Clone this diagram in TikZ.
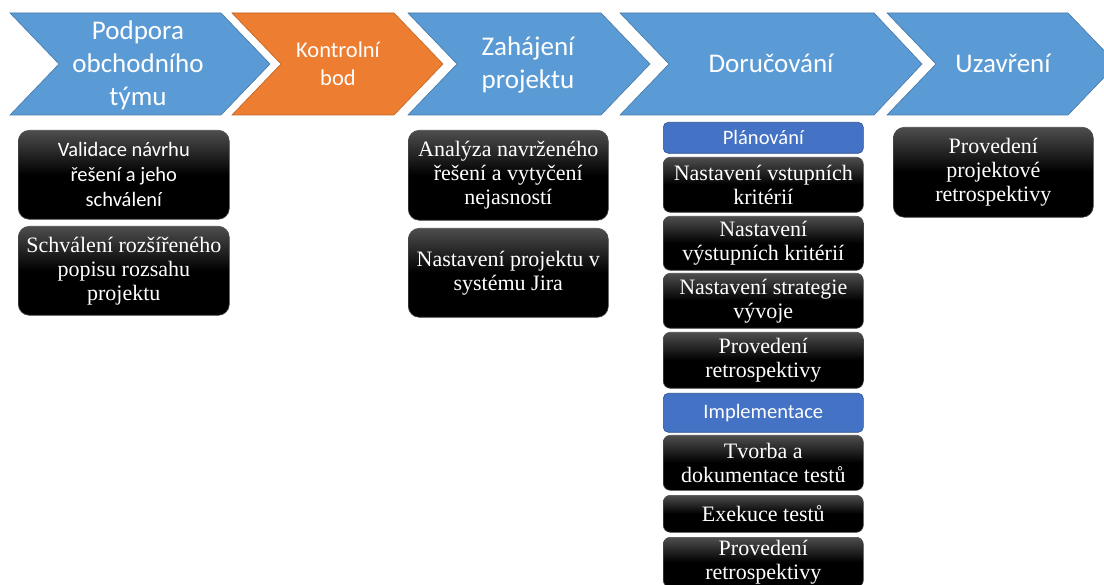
\documentclass[tikz,border=0pt]{standalone}
\usepackage{fontspec}
\setmainfont{Liberation Serif}
\newfontfamily\calfont{Carlito}
\definecolor{chevblue}{RGB}{91,155,213}
\definecolor{chevblueline}{RGB}{70,120,168}
\definecolor{chevorange}{RGB}{237,125,49}
\definecolor{chevorangeline}{RGB}{190,100,40}
\definecolor{subblue}{RGB}{68,114,196}
\definecolor{subblueline}{RGB}{47,82,143}
\definecolor{boxtop}{RGB}{78,78,78}
\pgfdeclareverticalshading{boxshade}{100bp}{color(0bp)=(black); color(25bp)=(black); color(50bp)=(black); color(75bp)=(boxtop); color(100bp)=(boxtop)}
\begin{document}
\begin{tikzpicture}[x=1pt,y=-1pt,
  chevb/.style={fill=chevblue, draw=chevblueline, line width=0.6pt},
  chevo/.style={fill=chevorange, draw=chevorangeline, line width=0.6pt},
  chevtext/.style={text=white, align=center, inner sep=0pt, font=\calfont\fontsize{27}{33}\selectfont},
  bbox/.style={rounded corners=11pt, shade, shading=boxshade, draw=black!70!white, line width=0.6pt,
    text=white, align=center, inner sep=0pt, anchor=north west,
    font=\fontsize{22}{24}\selectfont},
  sbox/.style={bbox, rounded corners=7pt, minimum width=200pt},
  subbox/.style={rounded corners=5pt, fill=subblue, draw=subblueline, line width=0.6pt,
    text=white, inner sep=0pt, anchor=north west, minimum width=200pt,
    font=\calfont\fontsize{20.5}{24}\selectfont}
]
\useasboundingbox (0,0) rectangle (1104,585);
\clip (0,0) rectangle (1104,585);

% chevrons
\path[chevb] (10,13) -- (221,13) -- (270,64) -- (221,115) -- (10,115) -- (59,64) -- cycle;
\path[chevo] (232,13) -- (394,13) -- (443,64) -- (394,115) -- (232,115) -- (281,64) -- cycle;
\path[chevb] (408,13) -- (601,13) -- (650,64) -- (601,115) -- (408,115) -- (457,64) -- cycle;
\path[chevb] (620,13) -- (874,13) -- (922,64) -- (874,115) -- (620,115) -- (669,64) -- cycle;
\path[chevb] (887,13) -- (1068,13) -- (1117,64) -- (1068,115) -- (887,115) -- (936,64) -- cycle;

\node[chevtext] (t1) at (138,65) {Podpora\\obchodního\\týmu};
\node[chevtext, font=\calfont\fontsize{22.5}{28}\selectfont] (t2) at (338,64) {Kontrolní\\bod};
\node[chevtext] (t3) at (528,65) {Zahájení\\projektu};
\node[chevtext] (t4) at (771,63) {Doručování};
\node[chevtext] (t5) at (1003,63) {Uzavření};

% column 1
\node[bbox, minimum width=211pt, minimum height=89pt, font=\calfont\fontsize{20.5}{25}\selectfont] (a1) at (18,130) {Validace návrhu\\řešení a jeho\\schválení};
\node[bbox, minimum width=211pt, minimum height=89pt] (a2) at (18,226) {Schválení rozšířeného\\popisu rozsahu\\projektu};

% column 3
\node[bbox, minimum width=200pt, minimum height=90pt] (c1) at (408,130) {Analýza navrženého\\řešení a vytyčení\\nejasností};
\node[bbox, minimum width=200pt, minimum height=89pt] (c2) at (408,228) {Nastavení projektu v\\systému Jira};

% column 4
\node[subbox, minimum height=31pt] (d0) at (663,122) {Plánování};
\node[sbox, minimum height=55pt] (d1) at (663,157) {Nastavení vstupních\\kritérií};
\node[sbox, minimum height=54pt] (d2) at (663,216) {Nastavení\\výstupních kritérií};
\node[sbox, minimum height=55pt] (d3) at (663,273) {Nastavení strategie\\vývoje};
\node[sbox, minimum height=56pt] (d4) at (663,332) {Provedení\\retrospektivy};
\node[subbox, minimum height=39pt] (d5) at (663,393) {Implementace};
\node[sbox, minimum height=55pt] (d6) at (663,435) {Tvorba a\\dokumentace testů};
\node[sbox, minimum height=37pt] (d7) at (663,495) {Exekuce testů};
\node[sbox, minimum height=50pt] (d8) at (663,537) {Provedení\\retrospektivy};

% column 5
\node[bbox, minimum width=200pt, minimum height=90pt] (e1) at (893,127) {Provedení\\projektové\\retrospektivy};
\end{tikzpicture}
\end{document}
